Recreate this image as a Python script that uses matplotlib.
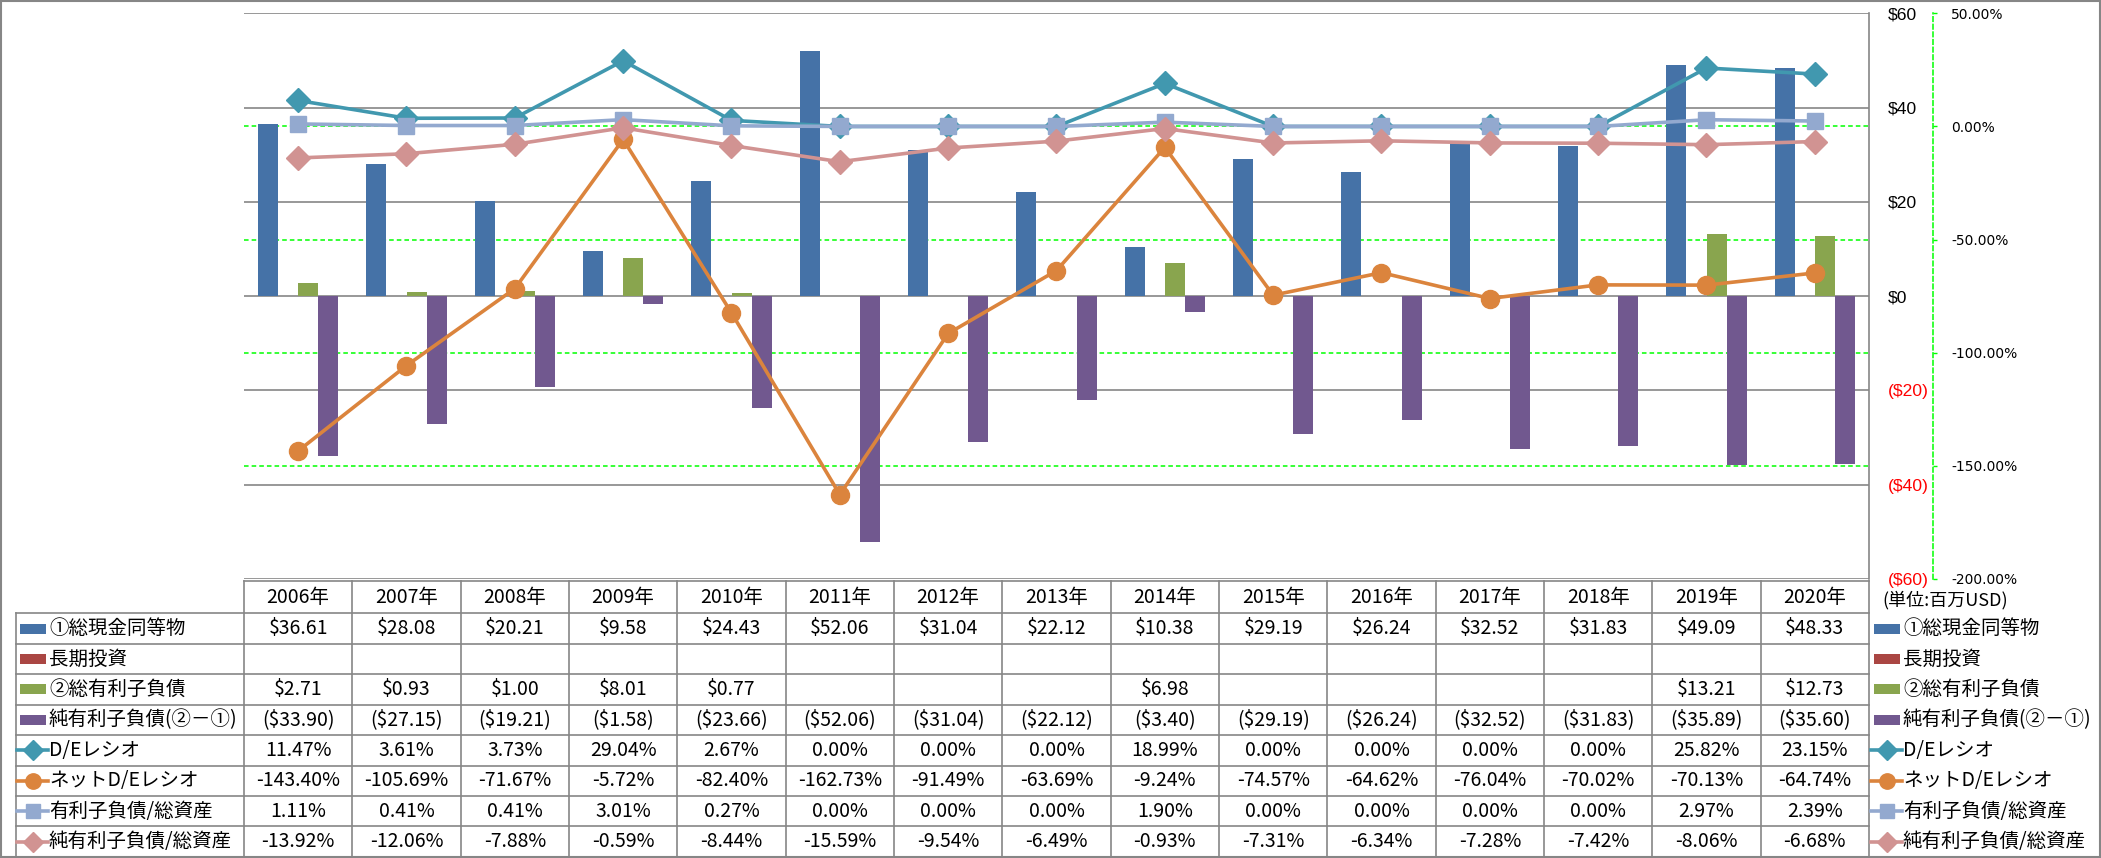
import numpy as np
import matplotlib
matplotlib.use('Agg')
import matplotlib.pyplot as plt
from matplotlib.patches import Rectangle
from matplotlib.lines import Line2D
from matplotlib.transforms import blended_transform_factory

nan = np.nan
years = ['2006年', '2007年', '2008年', '2009年', '2010年', '2011年', '2012年', '2013年',
         '2014年', '2015年', '2016年', '2017年', '2018年', '2019年', '2020年']
cash = [36.61, 28.08, 20.21, 9.58, 24.43, 52.06, 31.04, 22.12, 10.38, 29.19, 26.24, 32.52, 31.83, 49.09, 48.33]
lt_invest = [nan] * 15
debt = [2.71, 0.93, 1.00, 8.01, 0.77, nan, nan, nan, 6.98, nan, nan, nan, nan, 13.21, 12.73]
net_debt = [-33.90, -27.15, -19.21, -1.58, -23.66, -52.06, -31.04, -22.12, -3.40, -29.19, -26.24,
            -32.52, -31.83, -35.89, -35.60]
de_ratio = [11.47, 3.61, 3.73, 29.04, 2.67, 0.00, 0.00, 0.00, 18.99, 0.00, 0.00, 0.00, 0.00, 25.82, 23.15]
net_de_ratio = [-143.40, -105.69, -71.67, -5.72, -82.40, -162.73, -91.49, -63.69, -9.24, -74.57,
                -64.62, -76.04, -70.02, -70.13, -64.74]
debt_assets = [1.11, 0.41, 0.41, 3.01, 0.27, 0.00, 0.00, 0.00, 1.90, 0.00, 0.00, 0.00, 0.00, 2.97, 2.39]
net_debt_assets = [-13.92, -12.06, -7.88, -0.59, -8.44, -15.59, -9.54, -6.49, -0.93, -7.31, -6.34,
                   -7.28, -7.42, -8.06, -6.68]

bar_names = ['①総現金同等物', '長期投資', '②総有利子負債', '純有利子負債(②－①)']
line_names = ['D/Eレシオ', 'ネットD/Eレシオ', '有利子負債/総資産', '純有利子負債/総資産']
bar_colors = ['#4572A7', '#AA4643', '#89A54E', '#71588F']
line_colors = ['#4198AF', '#DB843D', '#93A9CF', '#D19392']
line_markers = ['D', 'o', 's', 'D']
line_ms = [12, 13, 12, 12]

usd_ticks = [-60, -40, -20, 0, 20, 40, 60]
pct_ticks = [-200, -150, -100, -50, 0, 50]

JP = ['Noto Sans CJK JP', 'DejaVu Sans']
NUM = ['Liberation Sans Narrow', 'Noto Sans CJK JP', 'DejaVu Sans']
TICK = 'Liberation Sans'
GRAY = '#868686'
LIME = '#00FF00'


def usd(v):
    if np.isnan(v):
        return ''
    return '${:.2f}'.format(v) if v >= 0 else '(${:.2f})'.format(-v)


def pct(v):
    return '{:.2f}%'.format(v)


W, H = 2101, 858
fig = plt.figure(figsize=(W / 100, H / 100), dpi=100)
L, R, T, B = 244, 1869, 13.3, 579
ax = fig.add_axes([L / W, 1 - B / H, (R - L) / W, (B - T) / H])
ax2 = ax.twinx()

x = np.arange(len(years))
w = 0.185
bar_series = [cash, lt_invest, debt, net_debt]
for k, (vals, col) in enumerate(zip(bar_series, bar_colors)):
    ax.bar(x + (k - 1.5) * w, np.array(vals, dtype=float), w, color=col, zorder=2)

line_series = [de_ratio, net_de_ratio, debt_assets, net_debt_assets]
for vals, col, mk, ms in zip(line_series, line_colors, line_markers, line_ms):
    ax2.plot(x, vals, color=col, lw=2.6, marker=mk, ms=ms, mec=col, mfc=col, zorder=3)

ax.set_xlim(-0.5, len(years) - 0.5)
ax.set_ylim(-60, 60)
ax2.set_ylim(-200, 50)

# primary axis (USD) on the right
ax.yaxis.tick_right()
ax.set_yticks(usd_ticks)
ax.set_yticklabels(['${}'.format(t) if t >= 0 else '(${})'.format(-t) for t in usd_ticks],
                   fontsize=12.6, family=TICK)
for lab, t in zip(ax.get_yticklabels(), usd_ticks):
    lab.set_color('red' if t < 0 else 'black')
ax.tick_params(axis='y', length=0, pad=13.7)
ax.set_xticks([])
ax.yaxis.grid(True, color=GRAY, lw=1.2)
ax.set_axisbelow(True)
for s in ['top', 'left', 'bottom']:
    ax.spines[s].set_visible(False)
ax.spines['right'].set_color(GRAY)
ax.spines['right'].set_linewidth(1.2)

# secondary axis (%)
ax2.set_yticks(pct_ticks)
ax2.set_yticklabels([pct(t) for t in pct_ticks], fontsize=12.6, family=TICK)
for lab, t in zip(ax2.get_yticklabels(), pct_ticks):
    lab.set_color('red' if t < 0 else 'black')
ax2.tick_params(axis='y', length=3, width=1, color=LIME, direction='out', pad=10)
for s in ['top', 'left', 'bottom']:
    ax2.spines[s].set_visible(False)
ax2.spines['right'].set_position(('outward', 46.1))
ax2.spines['right'].set_color(LIME)
ax2.spines['right'].set_linestyle((0, (3, 2)))
ax2.spines['right'].set_linewidth(1.1)

# lime dashed gridlines for the % axis, under the bars
tr = blended_transform_factory(ax.transAxes, ax2.transData)
for t in pct_ticks:
    if -200 < t < 50:
        ax.plot([0, 1], [t, t], transform=tr, color=LIME, ls=(0, (3, 2)), lw=1.1, zorder=0.8)

# ---- data table + legend (pixel coordinates) ----
tab = fig.add_axes([0, 0, 1, 1])
tab.set_xlim(0, W)
tab.set_ylim(H, 0)
tab.axis('off')

cw = (R - L) / len(years)
head_top, head_bot = 581, 613.3
row_h = 30.45
n_rows = 8
rows_y = [head_bot + i * row_h for i in range(n_rows + 1)]
tab_left = 16.3

lk = dict(color=GRAY, lw=1.2)
tab.plot([L, R], [head_top, head_top], **lk)
for y in rows_y:
    tab.plot([tab_left, R], [y, y], **lk)
tab.plot([tab_left, tab_left], [head_bot, rows_y[-1]], **lk)
for i in range(len(years) + 1):
    xc = L + i * cw
    tab.plot([xc, xc], [head_top, rows_y[-1]], **lk)

for i, yr in enumerate(years):
    tab.text(L + (i + 0.5) * cw, (head_top + head_bot) / 2, yr, ha='center', va='center',
             fontsize=14, family=NUM)

row_vals = [[usd(v) for v in cash], [usd(v) for v in lt_invest], [usd(v) for v in debt],
            [usd(v) for v in net_debt], [pct(v) for v in de_ratio], [pct(v) for v in net_de_ratio],
            [pct(v) for v in debt_assets], [pct(v) for v in net_debt_assets]]
for r, vals in enumerate(row_vals):
    yc = rows_y[r] + row_h / 2
    for i, s in enumerate(vals):
        tab.text(L + (i + 0.5) * cw, yc, s, ha='center', va='center', fontsize=14, family=NUM)


def draw_key(kx, yc, r):
    if r < 4:
        tab.add_patch(Rectangle((kx, yc - 5), 25.7, 10, color=bar_colors[r], lw=0))
    else:
        j = r - 4
        tab.add_line(Line2D([kx - 3, kx + 28], [yc, yc], color=line_colors[j], lw=2.6))
        tab.plot([kx + 12.5], [yc], marker=line_markers[j], ms=line_ms[j] * 0.85,
                 color=line_colors[j], mec=line_colors[j])


names = bar_names + line_names
for r, nm in enumerate(names):
    yc = rows_y[r] + row_h / 2
    draw_key(20, yc, r)
    tab.text(49, yc, nm, ha='left', va='center', fontsize=14, family=JP)
    draw_key(1874, yc, r)
    tab.text(1903, yc, nm, ha='left', va='center', fontsize=14, family=JP)

tab.text(1882, 600, '(単位:百万USD)', ha='left', va='center', fontsize=13, family=JP)

# outer chart border
tab.add_patch(Rectangle((0.5, 0.5), W - 1.5, H - 1.5, fill=False, ec=GRAY, lw=1.5))

fig.savefig('out.png', dpi=100)
